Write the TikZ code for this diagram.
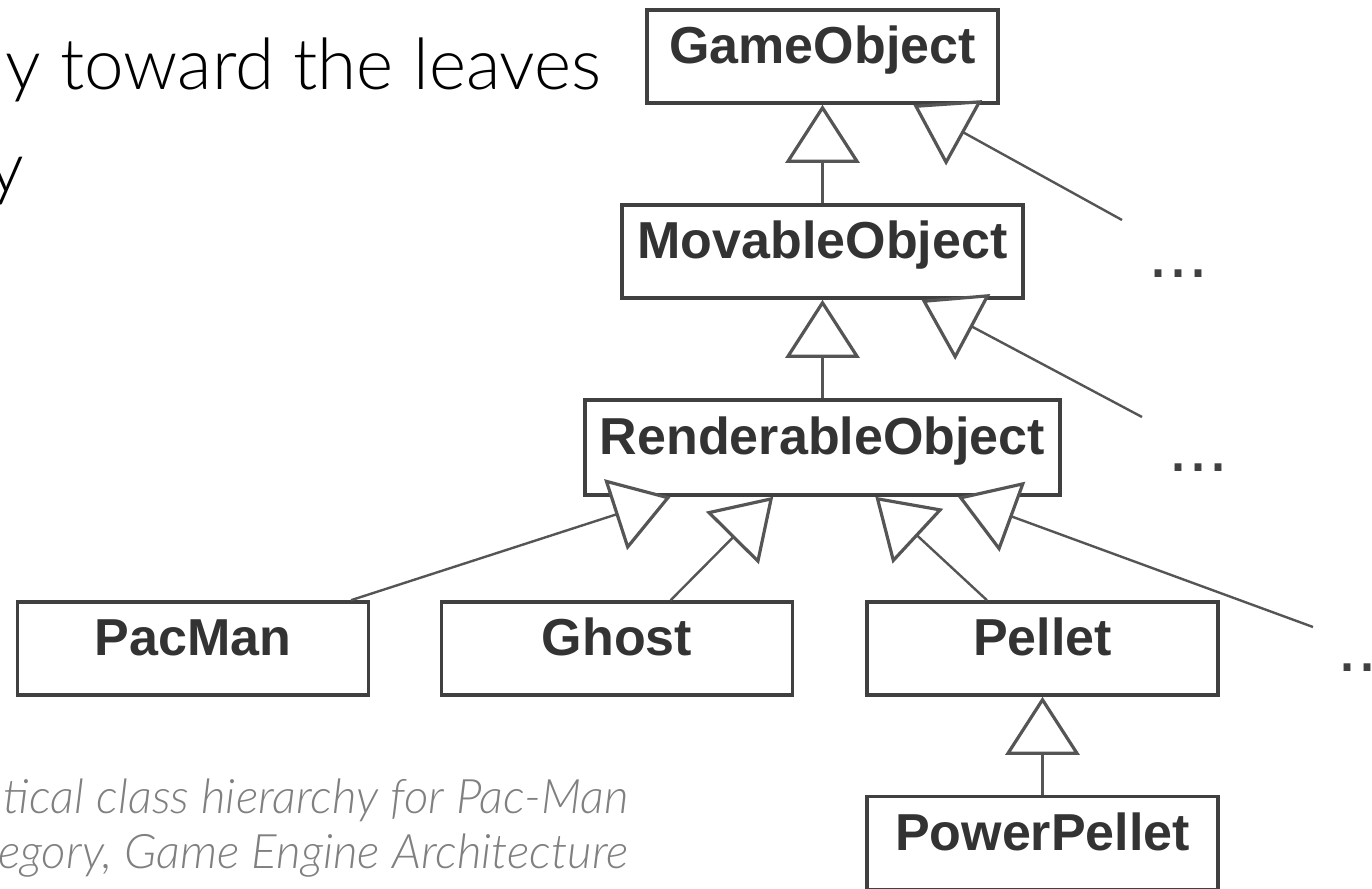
\documentclass[tikz,border=0pt]{standalone}
\usepackage{fontspec}
\setmainfont{Liberation Sans}
\newfontfamily\slidefont{Lato}[UprightFont=* Light, ItalicFont=* Light Italic]
\usetikzlibrary{arrows.meta}
\definecolor{boxgray}{HTML}{404040}
\definecolor{linegray}{HTML}{555555}
\definecolor{textgray}{HTML}{333333}
\definecolor{capgray}{HTML}{808080}
\begin{document}
\begin{tikzpicture}[x=0.5pt,y=-0.5pt,
  cls/.style={draw=boxgray,line width=1.8pt,fill=white,minimum width=175.5pt,minimum height=46.5pt,
    inner sep=0pt,text height=0.72em,text depth=0pt,text=textgray,font=\bfseries\fontsize{26}{26}\selectfont},
  inh/.style={draw=linegray,line width=1.2pt,-{Triangle[length=29pt,width=37pt,fill=white,line width=1.6pt]}},
  dots/.style={anchor=base,inner sep=0pt,text=boxgray,font=\fontsize{36}{36}\selectfont},
  slide/.style={anchor=base east,inner sep=0pt,font=\slidefont\fontsize{35.5}{40}\selectfont},
  captext/.style={anchor=base east,inner sep=0pt,text=capgray,font=\slidefont\itshape\fontsize{23.8}{28}\selectfont}]
\useasboundingbox (0,0) rectangle (1372,889);
\clip (0,0) rectangle (1372,889);

\node[slide] (line1) at (602,89) {y toward the leaves};
\node[slide] (line2) at (25,192) {y};
\node[captext] (cap1) at (629,813) {tical class hierarchy for Pac-Man};
\node[captext] (cap2) at (629,868) {egory, Game Engine Architecture};

\node[cls] (go) at (822.5,56.5) {GameObject};
\node[cls,minimum width=200.5pt] (mo) at (822.5,251.5) {MovableObject};
\node[cls,minimum width=237.5pt,minimum height=47.5pt] (ro) at (822.5,447.5) {RenderableObject};
\node[cls] (pm) at (193,648.5) {PacMan};
\node[cls] (gh) at (617,648.5) {Ghost};
\node[cls] (pe) at (1042.5,648.5) {Pellet};
\node[cls] (pp) at (1042.5,843) {PowerPellet};

\node[dots] (d1) at (1178,277) {...};
\node[dots] (d2) at (1198,471) {...};
\node[dots] (d3) at (1367,671) {...};
\coordinate (c1) at (1122,220);
\coordinate (c2) at (1142,417);
\coordinate (c3) at (1313,627);

\draw[inh] (mo) -- (go);
\draw[inh] (c1) -- (go.-28.5);
\draw[inh] (ro) -- (mo);
\draw[inh] (c2) -- (mo.-26.7);
\draw[inh] (pm.17) -- (ro.-162.2);
\draw[inh] (gh.42) -- (ro.-135);
\draw[inh] (pe.139.5) -- (ro.-43.2);
\draw[inh] (c3) -- (ro.-20.1);
\draw[inh] (pp) -- (pe);
\end{tikzpicture}
\end{document}
